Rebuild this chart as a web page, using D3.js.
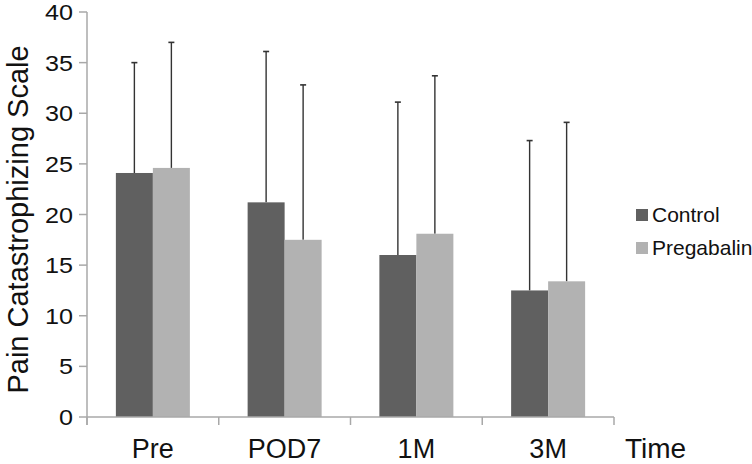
<!DOCTYPE html>
<html>
<head>
<meta charset="utf-8">
<script src="https://cdn.jsdelivr.net/npm/d3@7"></script>
<style>
  html, body { margin: 0; padding: 0; background: #fff; }
  svg { display: block; font-family: "Liberation Sans", Arial, Helvetica, sans-serif; }
</style>
</head>
<body>
<svg id="chart" width="752" height="464"></svg>
<script>
const categories = ["Pre", "POD7", "1M", "3M"];
const seriesNames = ["Control", "Pregabalin"];
const controlMeans = [24.1, 21.2, 16.0, 12.5];
const controlUpper = [35.0, 36.1, 31.1, 27.3];
const pregabalinMeans = [24.6, 17.5, 18.1, 13.4];
const pregabalinUpper = [37.0, 32.8, 33.7, 29.1];
const yTicks = [0, 5, 10, 15, 20, 25, 30, 35, 40];
const yTitle = "Pain Catastrophizing Scale";
const xTitle = "Time";

const colors = ["#606060", "#b2b2b2"];
const axisColor = "#a8a8a8";

const svg = d3.select("#chart");
const x0 = 87, x1 = 614, yTop = 12, yBot = 417;

const x = d3.scaleBand().domain(categories).range([x0, x1]).paddingInner(0).paddingOuter(0);
const y = d3.scaleLinear().domain([0, 40]).range([yBot, yTop]);
const barW = 37;

const rows = categories.map((c, i) => ({
  cat: c,
  vals: [
    { s: 0, mean: controlMeans[i], up: controlUpper[i] },
    { s: 1, mean: pregabalinMeans[i], up: pregabalinUpper[i] }
  ]
}));

const g = svg.append("g");
rows.forEach(r => {
  const cx = x(r.cat) + x.bandwidth() / 2;
  r.vals.forEach(v => {
    const bx = cx + (v.s === 0 ? -barW : 0);
    const mx = bx + barW / 2;
    g.append("line").attr("x1", mx).attr("x2", mx)
      .attr("y1", y(v.mean)).attr("y2", y(v.up))
      .attr("stroke", "#333").attr("stroke-width", 1.4);
    g.append("line").attr("x1", mx - 3).attr("x2", mx + 3)
      .attr("y1", y(v.up)).attr("y2", y(v.up))
      .attr("stroke", "#333").attr("stroke-width", 1.6);
    g.append("rect").attr("x", bx).attr("y", y(v.mean))
      .attr("width", barW).attr("height", y(0) - y(v.mean))
      .attr("fill", colors[v.s]);
  });
});

// Y axis
const yAxis = svg.append("g");
yAxis.append("line").attr("x1", x0).attr("x2", x0).attr("y1", yTop).attr("y2", yBot + 8)
  .attr("stroke", axisColor).attr("stroke-width", 1.5);
yTicks.forEach(t => {
  yAxis.append("line").attr("x1", x0 - 8).attr("x2", x0).attr("y1", y(t)).attr("y2", y(t))
    .attr("stroke", axisColor).attr("stroke-width", 1.5);
  yAxis.append("text").attr("x", 73).attr("y", y(t)).attr("dy", "0.36em")
    .attr("text-anchor", "end").attr("font-size", 22.5).attr("fill", "#111")
    .attr("transform", `translate(73,0) scale(1.12,1) translate(-73,0)`)
    .text(t);
});

// X axis
const xAxis = svg.append("g");
xAxis.append("line").attr("x1", x0).attr("x2", x1).attr("y1", yBot).attr("y2", yBot)
  .attr("stroke", axisColor).attr("stroke-width", 1.5);
const bounds = categories.map(c => x(c)).concat([x1]);
bounds.forEach(b => {
  xAxis.append("line").attr("x1", b).attr("x2", b).attr("y1", yBot).attr("y2", yBot + 8)
    .attr("stroke", axisColor).attr("stroke-width", 1.5);
});
categories.forEach(c => {
  xAxis.append("text").attr("x", x(c) + x.bandwidth() / 2).attr("y", 458)
    .attr("text-anchor", "middle").attr("font-size", 27).attr("fill", "#111").text(c);
});
svg.append("text").attr("x", 625).attr("y", 458).attr("font-size", 28).attr("fill", "#111").text(xTitle);

// Y title
svg.append("text").attr("transform", "translate(28,219.5) rotate(-90)")
  .attr("text-anchor", "middle").attr("font-size", 29).attr("fill", "#111").text(yTitle);

// Legend
seriesNames.forEach((s, i) => {
  const ly = 209 + i * 33;
  svg.append("rect").attr("x", 636).attr("y", ly).attr("width", 12).attr("height", 12).attr("fill", colors[i]);
  svg.append("text").attr("x", 652).attr("y", ly + 12.5).attr("font-size", 21).attr("fill", "#111").text(s);
});
</script>
</body>
</html>
